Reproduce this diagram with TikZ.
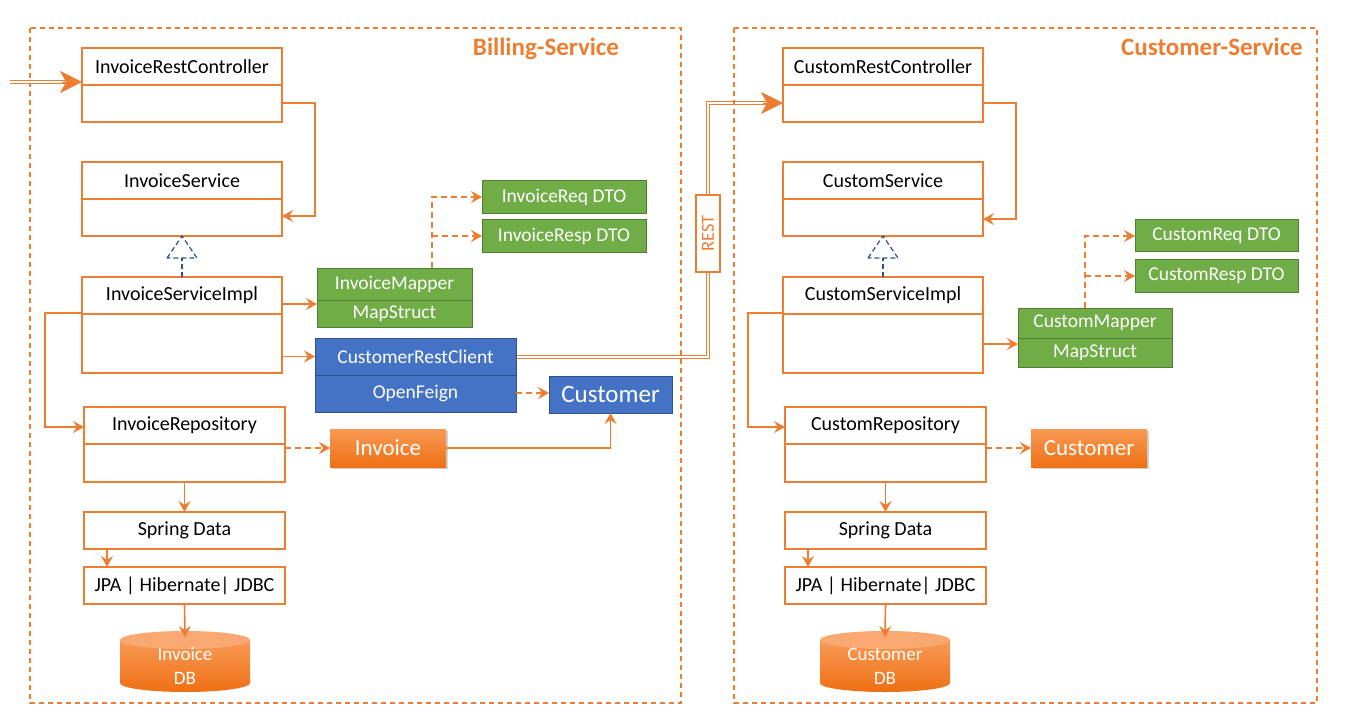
\documentclass[tikz,border=0pt]{standalone}
\usepackage{fontspec}
\setmainfont{Carlito}
\usetikzlibrary{arrows.meta,shadows,backgrounds}
\definecolor{orL}{HTML}{ED7D31}
\definecolor{grF}{HTML}{70AD47}
\definecolor{grD}{HTML}{507E32}
\definecolor{blF}{HTML}{4472C4}
\definecolor{blD}{HTML}{2F528F}
\definecolor{orTop}{HTML}{F89A55}
\definecolor{orBot}{HTML}{EE7014}
\definecolor{orEnd}{HTML}{F8A870}
\newcommand{\ClassBox}[6]{%
  \node[box, minimum width=#4pt, minimum height=#5pt] (#1) at (#2,#3) {};
  \node[hdr, anchor=north] (#1t) at (#1.north) {#6};
  \draw[divl] ([yshift=-37pt]#1.north west) -- ([yshift=-37pt]#1.north east);}
\newcommand{\DbCyl}[1]{%
  \shade[top color=orTop, bottom color=orBot] (#1-65,640) -- (#1-65,683) arc[start angle=180, end angle=0, x radius=65, y radius=9] -- (#1+65,640) -- cycle;
  \fill[orEnd] (#1,640) ellipse[x radius=65, y radius=9];}
\begin{document}
\begin{tikzpicture}[x=1pt,y=-1pt,
  every node/.style={inner sep=0pt, outer sep=0pt},
  box/.style={draw=orL, line width=1.3pt, fill=white},
  divl/.style={draw=orL, line width=1.3pt},
  hdr/.style={font=\fontsize{20}{23}\selectfont, text=black, minimum height=37pt},
  small/.style={draw=orL, line width=1.3pt, fill=white, minimum width=201pt, minimum height=37pt, font=\fontsize{20}{23}\selectfont},
  gbox/.style={draw=grD, line width=1pt, fill=grF, text=white, font=\fontsize{19.5}{22}\selectfont},
  bbox/.style={draw=blD, line width=1pt, fill=blF, text=white, font=\fontsize{19.5}{22}\selectfont},
  obox/.style={top color=orTop, bottom color=orBot, text=white, font=\fontsize{23}{26}\selectfont,
     drop shadow={shadow xshift=2pt, shadow yshift=-2pt, opacity=0.35}, minimum width=116pt, minimum height=38pt},
  dbtext/.style={text=white, align=center, font=\fontsize{19}{24}\selectfont, minimum width=130pt, minimum height=60pt},
  ttl/.style={text=orL, font=\bfseries\fontsize{25}{30}\selectfont},
  frame/.style={draw=orL, line width=1.2pt, dash pattern=on 5pt off 4pt},
  arr/.style={draw=orL, line width=1.6pt, -{Stealth[length=11pt,width=12pt,inset=4pt]}},
  darr/.style={arr, dash pattern=on 6pt off 4pt},
  tarr/.style={draw=orL, line width=1.2pt, -{Stealth[length=11pt,width=12pt,inset=4pt]}},
  dbl/.style={draw=orL, line width=1pt, double=white, double distance=2pt},
  bigtip/.style={draw=orL, fill=orL, line width=0.9pt, -{Stealth[length=22pt,width=22pt,inset=6pt]}},
  impl/.style={draw=blD, line width=1.2pt, dash pattern=on 5pt off 3pt},
  resttag/.style={draw=orL, line width=2.6pt, fill=white, minimum width=24pt, minimum height=77pt, text=orL, font=\fontsize{18.5}{20}\selectfont}
]
\useasboundingbox (0,0) rectangle (1348,727);
\begin{pgfonlayer}{background}
\fill[white] (0,0) rectangle (1348,727);
\end{pgfonlayer}

% frames and titles
\draw[frame] (30,28) rectangle (681,703);
\draw[frame] (734,28) rectangle (1317,703);
\node[ttl] (bt) at (546,49) {Billing-Service};
\node[ttl] (ct) at (1212,47) {Customer-Service};

% ---------------- Billing side ----------------
\ClassBox{irc}{182}{85}{200}{74}{InvoiceRestController}
\ClassBox{isv}{182}{199}{200}{74}{InvoiceService}
\ClassBox{isi}{182}{325}{200}{96}{InvoiceServiceImpl}
\ClassBox{irp}{184.5}{444.5}{201}{75}{InvoiceRepository}
\node[small] (isd) at (184.5,530.5) {Spring Data};
\node[small] (ijpa) at (184.5,585.5) {JPA | Hibernate| JDBC};
\DbCyl{185}
\node[dbtext] (idb) at (185,666) {Invoice\\DB};

\node[gbox, minimum width=155pt, minimum height=32pt] (imap) at (394.5,284) {InvoiceMapper};
\node[gbox, minimum width=155pt, minimum height=27pt] (ims) at (394.5,313.5) {MapStruct};
\node[gbox, minimum width=164pt, minimum height=33pt] (ireq) at (564,197) {InvoiceReq DTO};
\node[gbox, minimum width=164pt, minimum height=33pt] (iresp) at (564,236) {InvoiceResp DTO};
\node[bbox, minimum width=201pt, minimum height=37pt] (crcl) at (415.5,356.5) {CustomerRestClient};
\node[bbox, minimum width=201pt, minimum height=37pt] (ofe) at (415.5,393.5) {OpenFeign};
\node[bbox, minimum width=123pt, minimum height=37pt, font=\fontsize{25}{28}\selectfont] (bcust) at (610.5,394.5) {Customer};
\node[obox] (inv) at (388,448) {Invoice};

% ---------------- Customer side ----------------
\ClassBox{crc}{883}{85}{200}{74}{CustomRestController}
\ClassBox{csv}{883}{199}{200}{74}{CustomService}
\ClassBox{csi}{883}{325}{200}{96}{CustomServiceImpl}
\ClassBox{crp}{885.5}{444.5}{201}{75}{CustomRepository}
\node[small] (csd) at (885.5,530.5) {Spring Data};
\node[small] (cjpa) at (885.5,585.5) {JPA | Hibernate| JDBC};
\DbCyl{885}
\node[dbtext] (cdb) at (885,666) {Customer\\DB};

\node[gbox, minimum width=154pt, minimum height=30pt] (cmap) at (1095,323) {CustomMapper};
\node[gbox, minimum width=154pt, minimum height=29pt] (cms) at (1095,352.5) {MapStruct};
\node[gbox, minimum width=163pt, minimum height=32pt] (creq) at (1216.5,236) {CustomReq DTO};
\node[gbox, minimum width=163pt, minimum height=33pt] (cresp) at (1216.5,276) {CustomResp DTO};
\node[obox] (ccust) at (1089,448) {Customer};

% REST tag
\node[resttag] (rest) at (708,233.5) {\rotatebox{90}{REST}};

% ---------------- connectors: billing ----------------
\coordinate (ein) at (10,82);
\coordinate (eint) at (irc.west |- ein);
\draw[dbl] (ein) -- ([xshift=-12pt]eint);
\draw[bigtip] ([xshift=-20pt]eint) -- (eint);

\draw[arr] ([yshift=-18pt]irc.east) -- ++(33,0) |- ([yshift=-17pt]isv.east);
\draw[impl] (isi.north) -- ([yshift=-22pt]isv.south);
\draw[impl] ([shift={(-15pt,-22pt)}]isv.south) -- (isv.south) -- ([shift={(15pt,-22pt)}]isv.south) -- cycle;
\coordinate (pm) at ([yshift=-4pt]ims.north west);
\draw[arr] (isi.east |- pm) -- (pm);
\draw[arr] (isi.east |- crcl.west) -- (crcl.west);
\draw[arr] ([yshift=-36pt]isi.north west) -- ++(-37,0) |- ([yshift=-20pt]irp.north west);
\coordinate (mp) at ([xshift=37.5pt]imap.north);
\draw[darr] (mp) |- (ireq.west);
\draw[darr] (mp |- iresp.west) -- (iresp.west);
\coordinate (ofq) at ([yshift=0.5pt]ofe.east);
\draw[darr] (ofq) -- (bcust.west |- ofq);
\draw[darr] (irp.east |- inv.west) -- (inv.west);
\draw[tarr] (inv.east) -| (bcust.south);
\draw[arr] (irp.south) -- (isd.north);
\draw[arr] ([xshift=23pt]isd.south west) -- ([xshift=23pt]ijpa.north west);
\draw[arr] (ijpa.south) -- ([yshift=-1pt]idb.north);

% ---------------- connectors: customer ----------------
\draw[arr] ([yshift=-18pt]crc.east) -- ++(33,0) |- ([yshift=-20pt]csv.east);
\draw[impl] (csi.north) -- ([yshift=-22pt]csv.south);
\draw[impl] ([shift={(-15pt,-22pt)}]csv.south) -- (csv.south) -- ([shift={(15pt,-22pt)}]csv.south) -- cycle;
\coordinate (cpm) at ([yshift=-6pt]cms.north west);
\draw[arr] (csi.east |- cpm) -- (cpm);
\draw[arr] ([yshift=-36pt]csi.north west) -- ++(-35,0) |- ([yshift=-20pt]crp.north west);
\coordinate (cmp) at ([xshift=-10pt]cmap.north);
\draw[darr] (cmp) |- (creq.west);
\draw[darr] (cmp |- cresp.west) -- (cresp.west);
\draw[darr] (crp.east |- ccust.west) -- (ccust.west);
\draw[arr] (crp.south) -- (csd.north);
\draw[arr] ([xshift=23pt]csd.south west) -- ([xshift=23pt]cjpa.north west);
\draw[arr] (cjpa.south) -- ([yshift=-1pt]cdb.north);

% ---------------- REST link ----------------
\coordinate (crcin) at ([yshift=-18pt]crc.west);
\begin{pgfonlayer}{background}
\draw[dbl] (crcl.east) -| (rest.south);
\draw[dbl] (rest.north) |- ([xshift=-12pt]crcin);
\end{pgfonlayer}
\draw[bigtip] ([xshift=-20pt]crcin) -- (crcin);
\end{tikzpicture}
\end{document}
